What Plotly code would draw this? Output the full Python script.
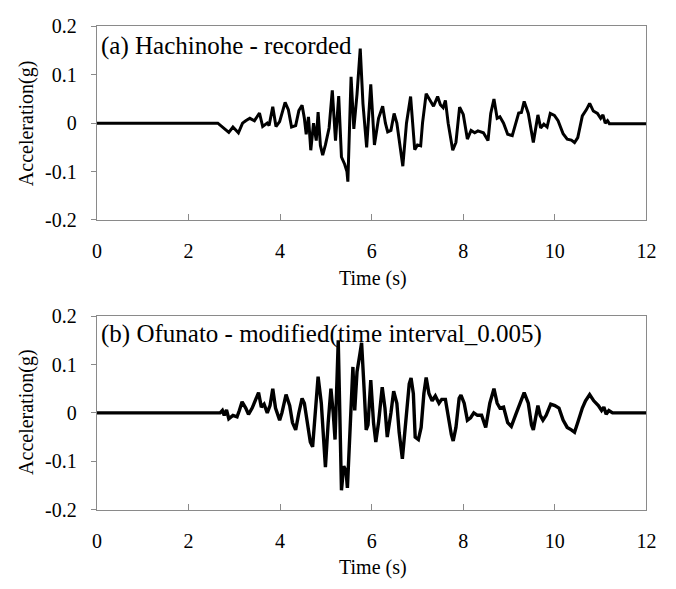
import plotly.graph_objects as go

# (a) Hachinohe - recorded
t_a = [0, 2.64, 2.88, 2.97, 3.09, 3.18, 3.25, 3.34, 3.44, 3.55, 3.62, 3.72, 3.76, 3.84, 3.91, 3.99,
       4.11, 4.18, 4.25, 4.34, 4.41, 4.48, 4.53, 4.57, 4.62, 4.67, 4.73, 4.79, 4.83, 4.88, 4.93,
       4.99, 5.07, 5.14, 5.21, 5.28, 5.34, 5.41, 5.46, 5.48, 5.55, 5.61, 5.68, 5.75, 5.81, 5.89,
       5.98, 6.06, 6.15, 6.24, 6.30, 6.35, 6.42, 6.49, 6.55, 6.60, 6.68, 6.76, 6.85, 6.94, 7.00,
       7.07, 7.11, 7.19, 7.28, 7.35, 7.44, 7.50, 7.56, 7.61, 7.67, 7.77, 7.84, 7.92, 8.00, 8.09,
       8.17, 8.25, 8.32, 8.44, 8.54, 8.60, 8.67, 8.74, 8.80, 8.88, 8.97, 9.07, 9.21, 9.27, 9.33,
       9.42, 9.53, 9.63, 9.69, 9.76, 9.83, 9.90, 9.99, 10.07, 10.18, 10.27, 10.36, 10.43, 10.50,
       10.60, 10.69, 10.76, 10.84, 10.93, 11.00, 11.05, 11.10, 11.15, 11.19, 12.0]
acc_a = [0, 0, -0.019, -0.008, -0.020, 0.0, 0.005, 0.010, 0.005, 0.021, -0.007, 0.0, -0.005, 0.034,
         -0.007, 0.003, 0.043, 0.028, -0.008, -0.005, 0.026, 0.037, 0.010, -0.023, 0.013, -0.056,
         0.0, -0.036, 0.023, -0.046, -0.066, -0.045, -0.010, 0.068, -0.036, 0.056, -0.070, -0.085,
         -0.100, -0.121, 0.096, -0.012, 0.060, 0.154, 0.040, -0.050, 0.080, -0.045, 0.010, 0.035,
         0.0, -0.018, -0.015, 0.020, 0.0, -0.033, -0.089, 0.0, 0.055, -0.055, -0.045, -0.047, 0.0,
         0.061, 0.045, 0.035, 0.055, 0.038, 0.032, 0.047, 0.0, -0.056, -0.040, 0.033, 0.018, -0.033,
         -0.015, -0.020, -0.016, -0.020, -0.036, 0.020, 0.050, 0.010, 0.013, 0.0, -0.023, -0.026,
         0.021, 0.022, 0.045, 0.020, -0.040, 0.017, -0.010, -0.002, -0.008, 0.020, 0.016, 0.005,
         -0.022, -0.033, -0.035, -0.040, -0.030, 0.015, 0.028, 0.041, 0.025, 0.020, 0.010, 0.017,
         0.0, 0.005, -0.001, -0.001]

# (b) Ofunato - modified
t_b = [0, 2.69, 2.74, 2.78, 2.83, 2.88, 2.97, 3.06, 3.11, 3.17, 3.25, 3.31, 3.39, 3.46, 3.53, 3.59,
       3.65, 3.72, 3.78, 3.84, 3.90, 3.99, 4.04, 4.13, 4.21, 4.27, 4.34, 4.41, 4.48, 4.53, 4.60,
       4.66, 4.71, 4.77, 4.83, 4.90, 4.95, 4.99, 5.05, 5.11, 5.16, 5.20, 5.27, 5.32, 5.34, 5.39,
       5.44, 5.47, 5.53, 5.59, 5.63, 5.68, 5.74, 5.78, 5.84, 5.88, 5.92, 5.98, 6.04, 6.09, 6.15,
       6.23, 6.29, 6.34, 6.42, 6.48, 6.55, 6.60, 6.67, 6.74, 6.82, 6.86, 6.91, 6.95, 7.02, 7.08,
       7.14, 7.19, 7.25, 7.32, 7.39, 7.47, 7.53, 7.61, 7.67, 7.74, 7.78, 7.84, 7.91, 7.95, 8.02,
       8.09, 8.16, 8.23, 8.31, 8.40, 8.49, 8.58, 8.67, 8.74, 8.80, 8.88, 8.97, 9.05, 9.16, 9.25,
       9.33, 9.42, 9.49, 9.53, 9.63, 9.68, 9.74, 9.81, 9.91, 10.00, 10.09, 10.18, 10.27, 10.36,
       10.43, 10.50, 10.60, 10.67, 10.76, 10.85, 10.95, 11.02, 11.07, 11.12, 11.18, 11.26, 12.0]
acc_b = [0, 0, 0.005, -0.005, 0.006, -0.012, -0.005, -0.008, 0.005, 0.023, 0.010, -0.003, 0.010,
         0.025, 0.042, 0.012, 0.018, 0.0, 0.015, 0.050, 0.010, -0.015, 0.0, 0.038, 0.015, -0.020,
         -0.035, 0.0, 0.030, 0.020, -0.030, -0.060, -0.070, 0.0, 0.075, 0.020, -0.060, -0.112,
         -0.020, 0.050, 0.0, -0.055, 0.150, -0.100, -0.160, -0.110, -0.120, -0.155, -0.020, 0.095,
         0.005, 0.085, 0.120, 0.145, 0.040, -0.035, -0.025, 0.068, -0.020, -0.060, -0.020, 0.053,
         0.010, -0.050, 0.0, 0.045, 0.020, -0.040, -0.095, -0.030, 0.060, 0.072, 0.040, -0.050,
         -0.055, -0.030, 0.040, 0.073, 0.040, 0.025, 0.035, 0.020, 0.028, 0.028, -0.010, -0.045,
         -0.058, -0.030, 0.030, 0.037, 0.020, -0.015, -0.010, 0.0, -0.005, -0.005, -0.030, 0.020,
         0.050, 0.020, 0.010, 0.012, -0.020, -0.028, 0.0, 0.025, 0.042, 0.020, -0.025, -0.035,
         0.015, -0.005, -0.015, -0.005, 0.018, 0.015, 0.010, -0.015, -0.030, -0.035, -0.040,
         -0.020, 0.010, 0.025, 0.038, 0.025, 0.015, 0.005, 0.012, -0.003, 0.005, 0.0, 0.0]

x_ticks = [0, 2, 4, 6, 8, 10, 12]
y_ticks = [-0.2, -0.1, 0, 0.1, 0.2]
y_ticklabels = ["-0.2", "-0.1", "0", "0.1", "0.2"]

panel_a_label = "(a) Hachinohe - recorded"
panel_b_label = "(b) Ofunato - modified(time interval_0.005)"
x_title = "Time (s)"
y_title = "Acceleration(g)"

W, H = 676, 589
FONT = "Liberation Serif, Times New Roman, serif"
FRAME = "#8a8a8a"

def px_x(p):
    return p / W

def px_y(p):
    return 1 - p / H

fig = go.Figure()
fig.add_trace(go.Scatter(x=t_a, y=acc_a, mode="lines", line=dict(color="black", width=3.0),
                         xaxis="x", yaxis="y", showlegend=False))
fig.add_trace(go.Scatter(x=t_b, y=acc_b, mode="lines", line=dict(color="black", width=3.4),
                         xaxis="x2", yaxis="y2", showlegend=False))

xdom = [px_x(94), px_x(656)]
common_x = dict(range=[0, 12], tickvals=x_ticks, ticks="inside", ticklen=6, tickcolor=FRAME,
                showline=True, linecolor=FRAME, linewidth=1.3, mirror=True, showgrid=False,
                zeroline=False, tickfont=dict(family=FONT, size=20, color="black"),
                ticklabelstandoff=13, domain=xdom)
common_y = dict(range=[-0.2, 0.2], tickvals=y_ticks, ticktext=y_ticklabels, ticks="outside",
                ticklen=5, tickcolor=FRAME, showline=True, linecolor=FRAME, linewidth=1.3,
                mirror=True, showgrid=False, zeroline=False,
                tickfont=dict(family=FONT, size=20, color="black"), ticklabelstandoff=10)

fig.update_layout(
    width=W, height=H, margin=dict(l=0, r=0, t=0, b=0),
    paper_bgcolor="white", plot_bgcolor="white",
    xaxis=dict(**common_x, anchor="y"),
    yaxis=dict(**common_y, domain=[px_y(217), px_y(16)], anchor="x"),
    xaxis2=dict(**common_x, anchor="y2"),
    yaxis2=dict(**common_y, domain=[px_y(518), px_y(317)], anchor="x2"),
)

ann_font = dict(family=FONT, size=20, color="black")
annotations = [
    dict(text=panel_a_label, x=px_x(96), y=px_y(36), xanchor="left", yanchor="middle",
         font=dict(family=FONT, size=25, color="black")),
    dict(text=panel_b_label, x=px_x(96), y=px_y(336), xanchor="left", yanchor="middle",
         font=dict(family=FONT, size=25, color="black")),
    dict(text=x_title, x=px_x(376), y=px_y(278), xanchor="center", yanchor="middle", font=ann_font),
    dict(text=x_title, x=px_x(376), y=px_y(578), xanchor="center", yanchor="middle", font=ann_font),
    dict(text=y_title, x=px_x(22), y=px_y(117), xanchor="center", yanchor="middle",
         textangle=-90, font=ann_font),
    dict(text=y_title, x=px_x(22), y=px_y(417), xanchor="center", yanchor="middle",
         textangle=-90, font=ann_font),
]
for a in annotations:
    a.update(xref="paper", yref="paper", showarrow=False)
fig.update_layout(annotations=annotations)

fig.write_html("out.html")
